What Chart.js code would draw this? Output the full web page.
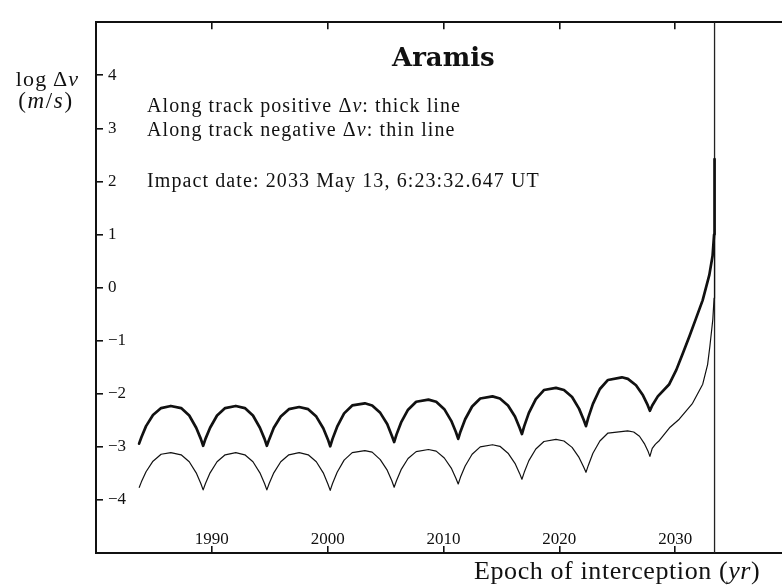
<!DOCTYPE html>
<html>
<head>
<meta charset="utf-8">
<script src="https://cdn.jsdelivr.net/npm/chart.js@4"></script>
<style>
  html, body { margin: 0; padding: 0; background: #fff; overflow: hidden; }
  #wrap { position: relative; width: 782px; height: 588px; overflow: hidden; background: #fff; }
  #chart { position: absolute; left: 0; top: 0; }
  .lbl { position: absolute; font-family: "Liberation Serif", serif; color: #111; white-space: nowrap; line-height: 1; }
  .it { font-style: italic; }
</style>
</head>
<body>
<div id="wrap">
  <canvas id="chart" width="800" height="588"></canvas>
  <div class="lbl" style="left:0; width:95px; text-align:center; top:68px; font-size:22px; letter-spacing:1.2px;">log&thinsp;Δ<span class="it">v</span></div>
  <div class="lbl" style="left:0; width:92px; text-align:center; top:89px; font-size:23px; letter-spacing:1.6px;">(<span class="it">m</span>/<span class="it">s</span>)</div>
  <div class="lbl" style="left:392px; top:44px; font-family:'DejaVu Serif', serif; font-weight:bold; font-size:26px;">Aramis</div>
  <div class="lbl" style="left:147px; top:95px; font-size:20px; letter-spacing:1.1px;">Along track positive Δ<span class="it">v</span>: thick line</div>
  <div class="lbl" style="left:147px; top:119px; font-size:20px; letter-spacing:1.1px;">Along track negative Δ<span class="it">v</span>: thin line</div>
  <div class="lbl" style="left:147px; top:170px; font-size:20px; letter-spacing:1.1px;">Impact date: 2033 May 13, 6:23:32.647 UT</div>
  <div class="lbl" style="left:474px; top:558px; font-size:26px; letter-spacing:0.6px;">Epoch of interception (<span class="it">yr</span>)</div>
</div>
<script>
// tick labels
const xTickValues = [1990, 2000, 2010, 2020, 2030];
const yTickValues = [-4, -3, -2, -1, 0, 1, 2, 3, 4];

// impact epoch (2033 May 13)
const impactYear = 2033.4;

// along track positive dv (thick line)
const thickYears = [
  1983.72, 1983.92, 1984.32, 1984.92, 1985.62, 1986.46, 1987.35, 1988.05, 1988.65, 1989.05, 1989.25,
  1989.45, 1989.85, 1990.45, 1991.15, 1992.07, 1992.85, 1993.55, 1994.15, 1994.55, 1994.75,
  1994.95, 1995.35, 1995.95, 1996.65, 1997.54, 1998.32, 1999.02, 1999.62, 2000.02, 2000.22,
  2000.42, 2000.82, 2001.42, 2002.12, 2003.21, 2003.84, 2004.54, 2005.14, 2005.54, 2005.74,
  2005.94, 2006.34, 2006.94, 2007.64, 2008.70, 2009.37, 2010.07, 2010.67, 2011.07, 2011.27,
  2011.47, 2011.87, 2012.47, 2013.17, 2014.23, 2014.87, 2015.57, 2016.17, 2016.57, 2016.77,
  2016.97, 2017.37, 2017.97, 2018.67, 2019.71, 2020.40, 2021.10, 2021.70, 2022.10, 2022.30,
  2022.50, 2022.90, 2023.50, 2024.20, 2025.40, 2025.92, 2026.62, 2027.22, 2027.62, 2027.82,
  2028.02, 2028.50, 2029.49, 2030.10, 2030.64, 2031.24, 2031.80, 2032.37, 2032.95, 2033.23, 2033.36, 2033.40
];
const thickValues = [
  -2.94, -2.82, -2.61, -2.40, -2.27, -2.23, -2.27, -2.41, -2.64, -2.85, -2.98,
  -2.85, -2.64, -2.41, -2.27, -2.23, -2.27, -2.41, -2.64, -2.85, -2.98,
  -2.86, -2.64, -2.43, -2.29, -2.25, -2.29, -2.43, -2.65, -2.86, -2.99,
  -2.85, -2.62, -2.37, -2.22, -2.18, -2.22, -2.36, -2.57, -2.79, -2.91,
  -2.77, -2.54, -2.30, -2.15, -2.11, -2.15, -2.29, -2.51, -2.72, -2.85,
  -2.71, -2.48, -2.24, -2.09, -2.05, -2.09, -2.22, -2.43, -2.64, -2.76,
  -2.61, -2.36, -2.10, -1.93, -1.89, -1.93, -2.06, -2.28, -2.49, -2.61,
  -2.45, -2.19, -1.91, -1.74, -1.69, -1.72, -1.84, -2.03, -2.21, -2.32,
  -2.22, -2.05, -1.82, -1.55, -1.25, -0.91, -0.58, -0.24, 0.24, 0.60, 1.00, 2.42
];

// along track negative dv (thin line)
const thinYears = [
  1983.72, 1983.92, 1984.32, 1984.92, 1985.62, 1986.46, 1987.35, 1988.05, 1988.65, 1989.05, 1989.25,
  1989.45, 1989.85, 1990.45, 1991.15, 1992.07, 1992.85, 1993.55, 1994.15, 1994.55, 1994.75,
  1994.95, 1995.35, 1995.95, 1996.65, 1997.54, 1998.32, 1999.02, 1999.62, 2000.02, 2000.22,
  2000.42, 2000.82, 2001.42, 2002.12, 2003.21, 2003.84, 2004.54, 2005.14, 2005.54, 2005.74,
  2005.94, 2006.34, 2006.94, 2007.64, 2008.70, 2009.37, 2010.07, 2010.67, 2011.07, 2011.27,
  2011.47, 2011.87, 2012.47, 2013.17, 2014.23, 2014.87, 2015.57, 2016.17, 2016.57, 2016.77,
  2016.97, 2017.37, 2017.97, 2018.67, 2019.71, 2020.40, 2021.10, 2021.70, 2022.10, 2022.30,
  2022.50, 2022.90, 2023.50, 2024.20, 2025.90, 2026.42, 2026.92, 2027.37, 2027.67, 2027.82,
  2028.02, 2028.30, 2028.64, 2029.56, 2030.35, 2031.50, 2032.38, 2032.80, 2033.00, 2033.25, 2033.36, 2033.40
];
const thinValues = [
  -3.77, -3.66, -3.47, -3.27, -3.14, -3.11, -3.15, -3.28, -3.49, -3.69, -3.81,
  -3.69, -3.49, -3.28, -3.15, -3.11, -3.15, -3.28, -3.49, -3.69, -3.81,
  -3.69, -3.49, -3.28, -3.15, -3.11, -3.15, -3.28, -3.49, -3.70, -3.82,
  -3.69, -3.48, -3.25, -3.11, -3.07, -3.10, -3.24, -3.44, -3.64, -3.76,
  -3.64, -3.43, -3.22, -3.09, -3.05, -3.08, -3.21, -3.40, -3.59, -3.70,
  -3.57, -3.36, -3.14, -3.00, -2.96, -2.99, -3.12, -3.31, -3.50, -3.61,
  -3.48, -3.26, -3.04, -2.90, -2.86, -2.89, -3.01, -3.20, -3.38, -3.48,
  -3.35, -3.12, -2.89, -2.74, -2.70, -2.72, -2.80, -2.95, -3.09, -3.18,
  -3.03, -2.95, -2.88, -2.63, -2.48, -2.18, -1.82, -1.45, -1.10, -0.60, -0.20, 1.10
];

const ink = '#111';
const tickFont = { family: 'Liberation Serif', size: 17 };

function toPoints(xs, ys) {
  return xs.map((x, i) => ({ x: x, y: ys[i] }));
}

// axes take no room of their own: the frame sits on the layout padding
function flat(prop) {
  return scale => { scale[prop] = 0; };
}

const baseX = {
  type: 'linear', min: 1980, max: 2040,
  afterBuildTicks: s => { s.ticks = xTickValues.map(v => ({ value: v })); },
  afterFit: flat('height'),
  grid: { drawOnChartArea: false, drawTicks: true, tickLength: -7, color: ink, lineWidth: 1.6 },
  border: { display: true, color: ink, width: 2 }
};
const baseY = {
  type: 'linear', min: -5, max: 5,
  afterBuildTicks: s => { s.ticks = yTickValues.map(v => ({ value: v })); },
  afterFit: flat('width'),
  grid: { drawOnChartArea: false, drawTicks: true, tickLength: -7, color: ink, lineWidth: 1.6 },
  border: { display: true, color: ink, width: 2 }
};

new Chart(document.getElementById('chart'), {
  type: 'line',
  data: {
    datasets: [
      {
        label: 'Along track positive Δv',
        data: toPoints(thickYears, thickValues),
        borderColor: ink, borderWidth: 2.7, pointRadius: 0,
        borderJoinStyle: 'round', borderCapStyle: 'round', tension: 0
      },
      {
        label: 'Along track negative Δv',
        data: toPoints(thinYears, thinValues),
        borderColor: ink, borderWidth: 1.2, pointRadius: 0,
        borderJoinStyle: 'round', tension: 0
      },
      {
        label: 'Impact date',
        data: [{ x: impactYear, y: -5 }, { x: impactYear, y: 5 }],
        borderColor: '#222', borderWidth: 1.3, pointRadius: 0
      }
    ]
  },
  options: {
    responsive: false,
    animation: false,
    layout: { padding: { left: 96, top: 7, right: 9, bottom: 35 } },
    plugins: { legend: { display: false }, tooltip: { enabled: false } },
    scales: {
      x: Object.assign({}, baseX, {
        position: 'bottom',
        ticks: { color: ink, font: tickFont, mirror: true, padding: 3, maxRotation: 0, callback: v => String(v) }
      }),
      x2: Object.assign({}, baseX, {
        position: 'top',
        ticks: { display: false }
      }),
      y: Object.assign({}, baseY, {
        position: 'left',
        ticks: {
          color: ink, font: tickFont, mirror: true, padding: 12,
          callback: v => (v < 0 ? '\u2212' + Math.abs(v) : String(v))
        }
      }),
      y2: Object.assign({}, baseY, {
        position: 'right',
        grid: { drawOnChartArea: false, drawTicks: true, tickLength: -7, color: '#ddd', lineWidth: 1.6 },
        ticks: { display: false }
      })
    }
  }
});
</script>
</body>
</html>
